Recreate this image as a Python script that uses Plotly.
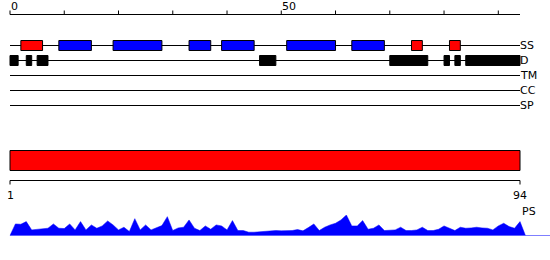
import plotly.graph_objects as go

# ---- data ----
seq_length = 94
top_tick_positions = list(range(0, 95, 10))
top_tick_labels = {0: "0", 50: "50"}

track_names = ["SS", "D", "TM", "CC", "SP"]

ss_starts = [2, 9, 19, 33, 39, 51, 63, 74, 81]
ss_ends = [6, 15, 28, 37, 45, 60, 69, 76, 83]
ss_types = ["strand", "helix", "helix", "helix", "helix", "helix", "helix", "strand", "strand"]

d_starts = [0, 3, 5, 46, 70, 80, 82, 84]
d_ends = [1.5, 4, 7, 49, 77, 81, 83, 94]

domain_start = 0
domain_end = 94

ps_positions = list(range(0, 96))
ps_values = [0, 35, 34, 42, 17, 19, 22, 22, 35, 22,
             21, 35, 17, 42, 17, 32, 22, 29, 44, 32,
             17, 25, 12, 51, 17, 32, 17, 24, 30, 57,
             15, 23, 25, 47, 22, 15, 29, 19, 32, 29,
             17, 45, 15, 15, 10, 10, 11, 14, 15, 15,
             14, 14, 15, 18, 14, 24, 35, 15, 25, 32,
             37, 47, 62, 29, 29, 45, 19, 22, 32, 15,
             17, 17, 25, 15, 15, 17, 25, 15, 15, 19,
             29, 22, 15, 25, 22, 23, 25, 23, 22, 17,
             29, 37, 27, 22, 42, 0]

# ---- layout constants ----
W, H = 550, 260
x_left_px = 10
scale = 510 / seq_length
x_range = [-x_left_px / scale, (W - x_left_px) / scale]

track_y = {"SS": 45.5, "D": 60.5, "TM": 75.5, "CC": 90.5, "SP": 105.5}
box_half = 5
ss_colors = {"strand": "#ff0000", "helix": "#0000ff"}
FONT = "DejaVu Sans"

fig = go.Figure()

# PS area profile
fig.add_trace(go.Scatter(
    x=ps_positions, y=ps_values, xaxis="x", yaxis="y2",
    mode="lines", fill="tozeroy", fillcolor="#0000ff",
    line=dict(color="#0000ff", width=0.5), hoverinfo="skip", showlegend=False))

shapes = []
annotations = []

# top ruler
axis_y = 14.5
shapes.append(dict(type="line", xref="x", yref="y", x0=0, x1=seq_length,
                   y0=axis_y, y1=axis_y, line=dict(color="black", width=1)))
for t in top_tick_positions:
    shapes.append(dict(type="line", xref="x", yref="y", x0=t, x1=t,
                       y0=axis_y - 4, y1=axis_y, line=dict(color="black", width=1)))
    if t in top_tick_labels:
        annotations.append(dict(xref="x", yref="y", x=t, y=6, text=top_tick_labels[t],
                                showarrow=False, xanchor="left", yanchor="middle",
                                xshift=-1,
                                font=dict(family=FONT, size=11, color="black")))

# track lines and labels
for name in track_names:
    y = track_y[name]
    shapes.append(dict(type="line", xref="x", yref="y", x0=0, x1=seq_length,
                       y0=y, y1=y, line=dict(color="black", width=1), layer="below"))
    annotations.append(dict(xref="x", yref="y", x=seq_length, y=y, text=name,
                            showarrow=False, xanchor="left", yanchor="middle",
                            xshift=-2,
                            font=dict(family=FONT, size=11, color="black")))

# SS boxes
for s, e, t in zip(ss_starts, ss_ends, ss_types):
    y = track_y["SS"]
    shapes.append(dict(type="rect", xref="x", yref="y", x0=s, x1=e,
                       y0=y - box_half, y1=y + box_half,
                       fillcolor=ss_colors[t], line=dict(color="black", width=1)))

# disorder boxes
for s, e in zip(d_starts, d_ends):
    y = track_y["D"]
    shapes.append(dict(type="rect", xref="x", yref="y", x0=s, x1=e,
                       y0=y - box_half, y1=y + box_half,
                       fillcolor="black", line=dict(color="black", width=1)))

# domain bar
shapes.append(dict(type="rect", xref="x", yref="y", x0=domain_start, x1=domain_end,
                   y0=150.5, y1=170.5, fillcolor="#ff0000",
                   line=dict(color="black", width=1)))

# bottom ruler
by = 180.5
shapes.append(dict(type="line", xref="x", yref="y", x0=0, x1=seq_length,
                   y0=by, y1=by, line=dict(color="black", width=1)))
for t in [0, seq_length]:
    shapes.append(dict(type="line", xref="x", yref="y", x0=t, x1=t,
                       y0=by, y1=by + 4, line=dict(color="black", width=1)))
annotations.append(dict(xref="x", yref="y", x=0, y=195.5, text="1", showarrow=False,
                        xanchor="center", yanchor="middle",
                        font=dict(family=FONT, size=11, color="black")))
annotations.append(dict(xref="x", yref="y", x=seq_length, y=195.5, text=str(seq_length),
                        showarrow=False, xanchor="center", yanchor="middle",
                        font=dict(family=FONT, size=11, color="black")))
annotations.append(dict(xref="x", yref="y", x=seq_length, y=211, text="PS",
                        showarrow=False, xanchor="left", yanchor="middle",
                        font=dict(family=FONT, size=11, color="black")))

# PS baseline
shapes.append(dict(type="line", xref="x", yref="y2", x0=0, x1=x_range[1],
                   y0=0, y1=0, line=dict(color="#0000ff", width=1)))

base_px = 235.5
top_px = 215.0
d0 = (H - base_px) / H
d1 = (H - top_px) / H

fig.update_layout(
    width=W, height=H,
    margin=dict(l=0, r=0, t=0, b=0),
    paper_bgcolor="white", plot_bgcolor="white",
    xaxis=dict(range=x_range, visible=False, fixedrange=True),
    yaxis=dict(range=[H, 0], visible=False, domain=[0, 1]),
    yaxis2=dict(range=[0, 62], visible=False, domain=[d0, d1], anchor="x"),
    shapes=shapes, annotations=annotations, showlegend=False,
)

fig.write_html("out.html")
